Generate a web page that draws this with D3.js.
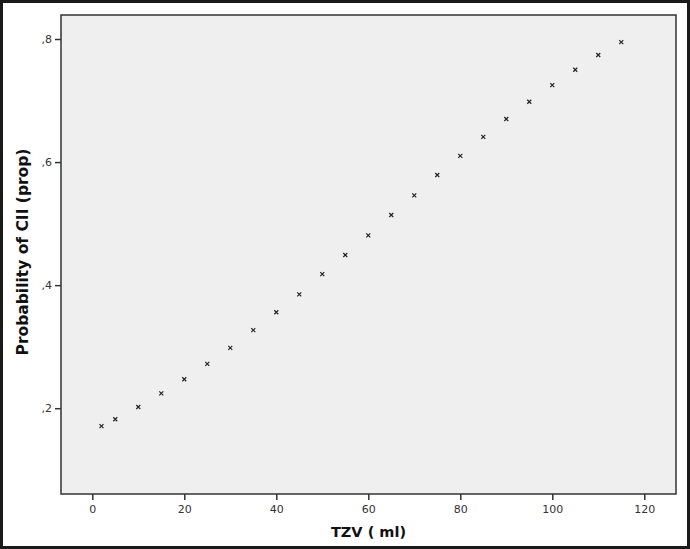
<!DOCTYPE html>
<html><head><meta charset="utf-8">
<script src="https://cdn.jsdelivr.net/npm/d3@7"></script>
<style>
html,body{margin:0;padding:0;background:#fff;}
svg{display:block;}
</style></head>
<body>
<svg id="c" width="690" height="549"></svg>
<script>
const tzv = [2,5,10,15,20,25,30,35,40,45,50,55,60,65,70,75,80,85,90,95,100,105,110,115];
const probCII = [0.171,0.182,0.202,0.224,0.247,0.272,0.298,0.327,0.356,0.385,0.418,0.449,0.481,0.514,0.546,0.579,0.610,0.641,0.670,0.698,0.725,0.750,0.774,0.795];
const xTicks = [0,20,40,60,80,100,120];
const yTicks = [0.2,0.4,0.6,0.8];
const xTitle = "TZV ( ml)";
const yTitle = "Probability of CII (prop)";

const svg = d3.select("#c");
const W = 690, H = 549;
// outer frame
svg.append("rect").attr("x",1.5).attr("y",1.5).attr("width",W-3).attr("height",H-3)
  .attr("fill","#fff").attr("stroke","#1a1a1a").attr("stroke-width",3);

const L = 61, R = 676, T = 15, B = 494;
const x = d3.scaleLinear().domain([-6.8,126.9]).range([L,R]);
const y = d3.scaleLinear().domain([0.0606,0.839]).range([B,T]);

svg.append("rect").attr("x",L).attr("y",T).attr("width",R-L).attr("height",B-T)
  .attr("fill","#efefef").attr("stroke","#333").attr("stroke-width",1.5);

const fmt = d => d3.format(".1f")(d).replace(/^0\./,",");
const font = "'DejaVu Sans', Verdana, sans-serif";

const xAxis = svg.append("g").attr("transform",`translate(0,${B})`)
  .call(d3.axisBottom(x).tickValues(xTicks).tickSize(6).tickSizeOuter(0).tickFormat(d3.format("d")));
xAxis.select(".domain").remove();
xAxis.selectAll("line").attr("stroke","#333").attr("stroke-width",1.5);
xAxis.selectAll("text").attr("font-family",font).attr("font-size",11).attr("fill","#333").attr("dy","0.9em");

const yAxis = svg.append("g").attr("transform",`translate(${L},0)`)
  .call(d3.axisLeft(y).tickValues(yTicks).tickSize(6).tickSizeOuter(0).tickFormat(fmt));
yAxis.select(".domain").remove();
yAxis.selectAll("line").attr("stroke","#333").attr("stroke-width",1.5);
yAxis.selectAll("text").attr("font-family",font).attr("font-size",11).attr("fill","#333");

// markers
const pts = svg.append("g").selectAll("g").data(tzv.map((v,i)=>[v,probCII[i]])).join("g")
  .attr("transform",d=>`translate(${x(d[0])},${y(d[1])})`);
pts.append("path").attr("d","M-2,-2L2,2M-2,2L2,-2").attr("stroke","#222").attr("stroke-width",1.2);

svg.append("text").attr("x",(L+R)/2).attr("y",537).attr("text-anchor","middle")
  .attr("font-family",font).attr("font-weight","bold").attr("font-size",14.5).attr("fill","#111").text(xTitle);
svg.append("text").attr("transform",`translate(28,252) rotate(-90)`).attr("text-anchor","middle")
  .attr("font-family",font).attr("font-weight","bold").attr("font-size",15.5).attr("fill","#111").text(yTitle);
</script>
</body></html>
